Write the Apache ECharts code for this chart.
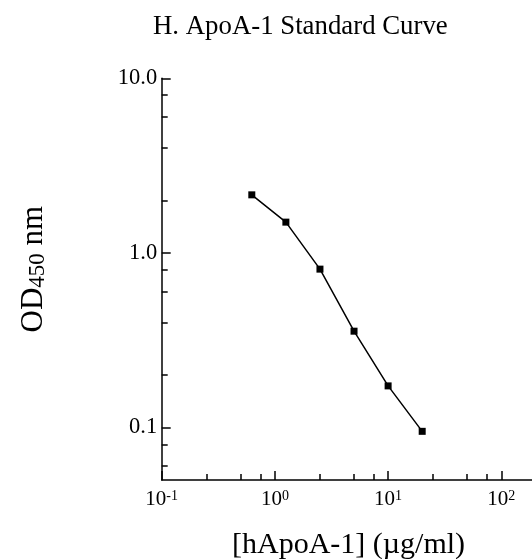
<!DOCTYPE html>
<html>
<head>
<meta charset="utf-8">
<script src="https://cdn.jsdelivr.net/npm/echarts@6/dist/echarts.min.js"></script>
<style>html,body{margin:0;padding:0;background:#fff}#c{width:532px;height:559px}</style>
</head>
<body>
<div id="c"></div>
<script>
// ---- data ----
const concentrations = [0.625, 1.25, 2.5, 5, 10, 20];          // µg/ml
const odValues       = [2.15, 1.50, 0.807, 0.356, 0.173, 0.095]; // OD450
const xMajorTicks    = [0.1, 1, 10, 100];
const xTickExponents = ['-1', '0', '1', '2'];
const xMinorTicks    = [0.25, 0.5, 0.75, 2.5, 5, 7.5, 25, 50, 75];
const yMajorTicks    = [0.1, 1, 10];
const yTickLabels    = ['0.1', '1.0', '10.0'];
const yMinorTicks    = [0.06, 0.08, 0.2, 0.4, 0.6, 0.8, 2, 4, 6, 8];
const xRange = [0.1, 200];
const yRange = [0.05, 10];

const L = Math.log10;
const FONT = 'Liberation Serif';
const xMin = L(xRange[0]), xMax = L(xRange[1]);
const yMin = L(yRange[0]), yMax = L(yRange[1]);

function findIdx(arr, v) {
  for (let i = 0; i < arr.length; i++) if (Math.abs(L(arr[i]) - v) < 1e-6) return i;
  return -1;
}

const lineStyle = { color: '#000', width: 1.5 };

const chart = echarts.init(document.getElementById('c'), null, { renderer: 'canvas' });
chart.setOption({
  animation: false,
  backgroundColor: '#fff',
  title: {
    text: 'H. ApoA-1 Standard Curve',
    left: 153, top: 13, padding: 0,
    textStyle: { fontFamily: FONT, fontSize: 26.8, fontWeight: 'normal', color: '#000' }
  },
  grid: { left: 161.7, top: 78.3, bottom: 79, right: -3.4, containLabel: false, outerBoundsMode: 'none' },
  xAxis: [
    {
      type: 'value', min: xMin, max: xMax, position: 'bottom',
      name: '[hApoA-1] (\u00b5g/ml)', nameLocation: 'middle', nameGap: 50,
      nameTextStyle: { fontFamily: FONT, fontSize: 30, color: '#000' },
      axisLine: { show: true, onZero: false, lineStyle: lineStyle },
      axisTick: { show: true, inside: true, length: 9, lineStyle: lineStyle,
                  customValues: xMajorTicks.map(L) },
      axisLabel: {
        show: true, margin: 9, customValues: xMajorTicks.map(L),
        fontFamily: FONT, fontSize: 21, color: '#000',
        formatter: function (v) {
          const i = findIdx(xMajorTicks, v);
          return i < 0 ? '' : '10{sup|' + xTickExponents[i] + '}';
        },
        rich: { sup: { fontFamily: FONT, fontSize: 14, color: '#000', verticalAlign: 'top' } }
      },
      splitLine: { show: false }
    },
    {
      type: 'value', min: xMin, max: xMax, position: 'bottom',
      axisLine: { show: false, onZero: false },
      axisTick: { show: true, inside: true, length: 6, lineStyle: lineStyle,
                  customValues: xMinorTicks.map(L) },
      axisLabel: { show: false },
      splitLine: { show: false }
    }
  ],
  yAxis: [
    {
      type: 'value', min: yMin, max: yMax, position: 'left',
      name: 'OD{sub|450} nm', nameLocation: 'middle', nameGap: 112,
      nameTextStyle: {
        fontFamily: FONT, fontSize: 31, color: '#000', padding: [0, 0, 0, 20],
        rich: { sub: { fontFamily: FONT, fontSize: 23, color: '#000', verticalAlign: 'bottom' } }
      },
      axisLine: { show: true, onZero: false, lineStyle: lineStyle },
      axisTick: { show: true, inside: true, length: 9, lineStyle: lineStyle,
                  customValues: yMajorTicks.map(L) },
      axisLabel: {
        show: true, margin: 4.5, customValues: yMajorTicks.map(L),
        fontFamily: FONT, fontSize: 22.5, color: '#000',
        formatter: function (v) {
          const i = findIdx(yMajorTicks, v);
          return i < 0 ? '' : yTickLabels[i];
        }
      },
      splitLine: { show: false }
    },
    {
      type: 'value', min: yMin, max: yMax, position: 'left',
      axisLine: { show: false, onZero: false },
      axisTick: { show: true, inside: true, length: 6, lineStyle: lineStyle,
                  customValues: yMinorTicks.map(L) },
      axisLabel: { show: false },
      splitLine: { show: false }
    }
  ],
  series: [{
    type: 'line',
    xAxisIndex: 0, yAxisIndex: 0,
    data: concentrations.map((c, i) => [L(c), L(odValues[i])]),
    symbol: 'rect', symbolSize: 7,
    lineStyle: { color: '#000', width: 1.5 },
    itemStyle: { color: '#000' },
    showSymbol: true
  }]
});
</script>
</body>
</html>
